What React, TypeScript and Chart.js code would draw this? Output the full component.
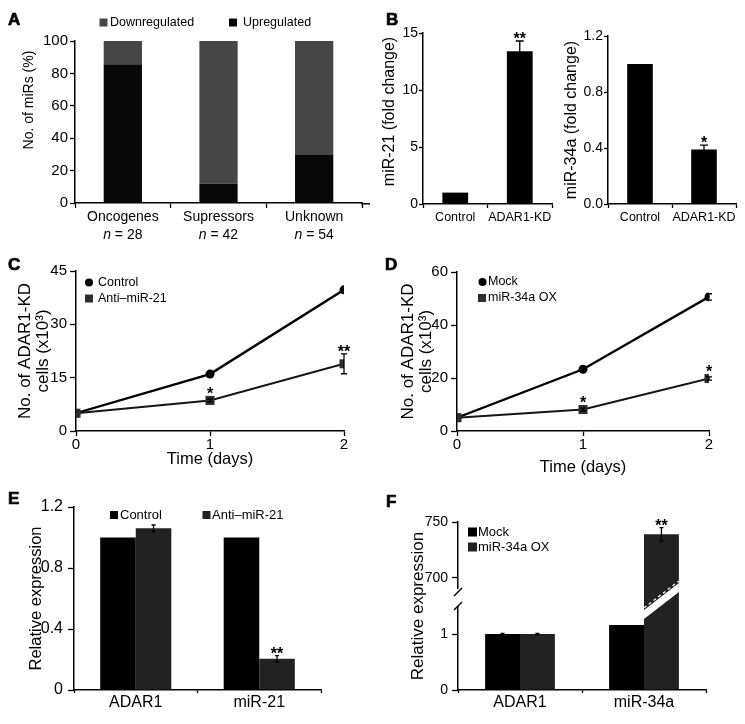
import React, { useEffect, useRef } from 'react';
import { Chart, LinearScale, registerables } from 'chart.js';

const FONT = '"Liberation Sans", Arial, Helvetica, sans-serif';

// ---------------- Data ----------------
// Panel A
const aCategories = ['Oncogenes', 'Supressors', 'Unknown'];
const aCounts = [28, 42, 54];
const aUp = [85.7, 11.9, 29.6];
const aDown = [14.3, 88.1, 70.4];
// Panel B
const bCategories = ['Control', 'ADAR1-KD'];
const b21 = [1.0, 13.4];
const b21Err = [0, 0.9];
const b21Stars = ['', '**'];
const b34 = [1.0, 0.39];
const b34Err = [0, 0.03];
const b34Stars = ['', '*'];
// Panel C
const days = [0, 1, 2];
const cControl = [5, 16, 39.7];
const cAnti = [5, 8.6, 18.9];
const cAntiErr = [0, 0.4, 2.8];
const cStars = ['', '*', '**'];
// Panel D
const dMock = [5, 23.3, 50.6];
const dMockErr = [0, 0.5, 1.2];
const dOX = [5, 8.1, 19.8];
const dOXErr = [0, 0.5, 0.6];
const dStars = ['', '*', '*'];
// Panel E
const eCategories = ['ADAR1', 'miR-21'];
const eControl = [1.0, 1.0];
const eAnti = [1.06, 0.205];
const eAntiErr = [0.022, 0.02];
const eStars = ['', '**'];
// Panel F
const fCategories = ['ADAR1', 'miR-34a'];
const fMock = [1.0, 1.16];
const fOX = [1.0, 739];
const fMockErr = [0.01, 0];
const fOXErr = [0.01, 6];
const fStars = ['', '**'];
const fTickValues = [0, 1, 700, 750];
const fBreak = { lowMax: 1.5, highMin: 684, lowFrac: 0.5, highFrac: 0.56 };

// ---------------- Broken linear scale ----------------
class BrokenLinearScale extends LinearScale {
  static id = 'brokenLinear';
  static defaults = {};
  buildTicks() {
    const vals = (this.options as any).tickValues || [];
    const out: any[] = [];
    for (let i = 0; i < vals.length; i++) out.push({ value: vals[i] });
    return out;
  }
  _dec(value: number) {
    const b = (this.options as any).breakAt;
    const min = this.min;
    const max = this.max;
    if (value <= b.lowMax) return ((value - min) / (b.lowMax - min)) * b.lowFrac;
    if (value >= b.highMin) return b.highFrac + ((value - b.highMin) / (max - b.highMin)) * (1 - b.highFrac);
    return b.lowFrac + ((value - b.lowMax) / (b.highMin - b.lowMax)) * (b.highFrac - b.lowFrac);
  }
  getPixelForValue(value: number) {
    if (value === null || value === undefined || isNaN(value)) return NaN;
    return this.getPixelForDecimal(this._dec(value));
  }
  getValueForPixel(pixel: number) {
    const b = (this.options as any).breakAt;
    const d = this.getDecimalForPixel(pixel);
    const min = this.min;
    const max = this.max;
    if (d <= b.lowFrac) return min + (d / b.lowFrac) * (b.lowMax - min);
    if (d >= b.highFrac) return b.highMin + ((d - b.highFrac) / (1 - b.highFrac)) * (max - b.highMin);
    return b.lowMax + ((d - b.lowFrac) / (b.highFrac - b.lowFrac)) * (b.highMin - b.lowMax);
  }
}

Chart.register(...registerables, BrokenLinearScale);

// ---------------- Helpers ----------------
const tickFont = (size: number) => ({ family: FONT, size });

function yAxis(o: any) {
  return {
    type: o.type || 'linear',
    min: o.min,
    max: o.max,
    ticks: {
      stepSize: o.step,
      font: tickFont(o.tickSize),
      color: '#000',
      padding: o.pad,
      autoSkip: false,
      ...(o.cb ? { callback: o.cb } : {}),
    },
    grid: { drawOnChartArea: false, drawTicks: true, tickLength: o.tl, tickColor: '#000', tickWidth: 1.3 },
    border: { display: true, color: '#000', width: 1.5 },
    title: {
      display: !!o.title,
      text: o.title || '',
      color: '#000',
      font: { family: FONT, size: o.titleSize, lineHeight: o.titleLH },
      padding: { top: o.titlePad, bottom: 0 },
    },
    afterFit: (s: any) => {
      s.width = o.width;
    },
    ...(o.extra || {}),
  };
}

function xCat(o: any) {
  return {
    type: 'category',
    offset: true,
    stacked: !!o.stacked,
    ticks: { font: tickFont(o.size), color: '#000', padding: o.pad, autoSkip: false, maxRotation: 0 },
    grid: { offset: true, drawOnChartArea: false, drawTicks: true, tickLength: o.tl, tickColor: '#000', tickWidth: 1.3 },
    border: { display: true, color: '#000', width: 1.5 },
    afterFit: (s: any) => {
      s.height = o.height;
    },
  };
}

function xDays(o: any) {
  return {
    type: 'linear',
    min: 0,
    max: 2,
    ticks: { stepSize: 1, font: tickFont(15), color: '#000', padding: o.pad },
    grid: { drawOnChartArea: false, drawTicks: true, tickLength: 5, tickColor: '#000', tickWidth: 1.3 },
    border: { display: true, color: '#000', width: 1.5 },
    title: {
      display: true,
      text: 'Time (days)',
      color: '#000',
      font: { family: FONT, size: 16.5, lineHeight: '19px' },
      padding: { top: 0, bottom: o.titlePad },
    },
    afterFit: (s: any) => {
      s.height = o.height;
    },
  };
}

function baseOpts(padding: any, scales: any) {
  return {
    responsive: true,
    maintainAspectRatio: false,
    animation: false,
    events: [],
    layout: { padding, autoPadding: false },
    plugins: { legend: { display: false }, tooltip: { enabled: false } },
    scales,
  };
}

// Rotated y-axis title placed at a given x, shifted up from the plot centre
function yTitlePlugin(text: string, size: number, cx: number, shiftUp: number) {
  return {
    id: 'yTitle',
    afterDraw(chart: any) {
      const ca = chart.chartArea;
      const ctx = chart.ctx;
      ctx.save();
      ctx.translate(cx, (ca.top + ca.bottom) / 2 - shiftUp);
      ctx.rotate(-Math.PI / 2);
      ctx.font = `${size}px ${FONT}`;
      ctx.fillStyle = '#000';
      ctx.textAlign = 'center';
      ctx.textBaseline = 'middle';
      ctx.fillText(text, 0, 0);
      ctx.restore();
    },
  };
}

function axisExtendPlugin(extra: number) {
  return {
    id: 'axisExtend',
    afterDraw(chart: any) {
      const ca = chart.chartArea;
      const ctx = chart.ctx;
      ctx.save();
      ctx.strokeStyle = '#000';
      ctx.lineWidth = 1.5;
      ctx.beginPath();
      ctx.moveTo(ca.right - 1, ca.bottom + 0.75);
      ctx.lineTo(ca.right + extra, ca.bottom + 0.75);
      ctx.stroke();
      ctx.restore();
    },
  };
}

function marksPlugin(errs: number[][], stars: string[][], cap: number) {
  return {
    id: 'marks',
    afterDatasetsDraw(chart: any) {
      const ctx = chart.ctx;
      const yS = chart.scales.y;
      ctx.save();
      chart.data.datasets.forEach((ds: any, i: number) => {
        const meta = chart.getDatasetMeta(i);
        meta.data.forEach((el: any, j: number) => {
          const parsed = meta._parsed[j];
          const v = parsed ? parsed.y : 0;
          const e = errs[i] && errs[i][j] ? errs[i][j] : 0;
          let top = meta.type === 'line' ? el.y - (ds.markHalf || 4.5) : el.y;
          if (e > 0) {
            const yT = yS.getPixelForValue(v + e);
            const yB = yS.getPixelForValue(v - e);
            ctx.strokeStyle = '#000';
            ctx.lineWidth = 1.3;
            ctx.beginPath();
            ctx.moveTo(el.x, yT);
            ctx.lineTo(el.x, yB);
            ctx.moveTo(el.x - cap / 2, yT);
            ctx.lineTo(el.x + cap / 2, yT);
            ctx.moveTo(el.x - cap / 2, yB);
            ctx.lineTo(el.x + cap / 2, yB);
            ctx.stroke();
            top = Math.min(top, yT);
          }
          const s = stars[i] && stars[i][j];
          if (s) {
            ctx.fillStyle = '#000';
            ctx.font = `bold 16px ${FONT}`;
            ctx.textAlign = 'center';
            ctx.textBaseline = 'alphabetic';
            ctx.fillText(s, el.x, top + 3);
          }
        });
      });
      ctx.restore();
    },
  };
}

type LItem = { ds: number; mx: number; my: number; tx: number; shape: string };
function legendPlugin(items: LItem[], fontSize: number, box: number) {
  return {
    id: 'customLegend',
    afterDraw(chart: any) {
      const ctx = chart.ctx;
      ctx.save();
      items.forEach((it) => {
        const ds: any = chart.data.datasets[it.ds];
        ctx.fillStyle = ds.legendColor || ds.backgroundColor;
        if (it.shape === 'circle') {
          ctx.beginPath();
          ctx.arc(it.mx, it.my, box / 2, 0, Math.PI * 2);
          ctx.fill();
        } else {
          ctx.fillRect(it.mx - box / 2, it.my - box / 2, box, box);
        }
        ctx.fillStyle = '#000';
        ctx.font = `${fontSize}px ${FONT}`;
        ctx.textAlign = 'left';
        ctx.textBaseline = 'middle';
        ctx.fillText(ds.label, it.tx, it.my);
      });
      ctx.restore();
    },
  };
}

const nPlugin = {
  id: 'nLabels',
  afterDraw(chart: any) {
    const xs = chart.scales.x;
    const ctx = chart.ctx;
    ctx.save();
    ctx.fillStyle = '#000';
    ctx.textBaseline = 'middle';
    ctx.textAlign = 'left';
    aCounts.forEach((n, i) => {
      const x = xs.getPixelForValue(i);
      const y = xs.top + 32;
      const rest = ` = ${n}`;
      ctx.font = `italic 14px ${FONT}`;
      const w1 = ctx.measureText('n').width;
      ctx.font = `14px ${FONT}`;
      const w2 = ctx.measureText(rest).width;
      const start = x - (w1 + w2) / 2;
      ctx.font = `italic 14px ${FONT}`;
      ctx.fillText('n', start, y);
      ctx.font = `14px ${FONT}`;
      ctx.fillText(rest, start + w1, y);
    });
    ctx.restore();
  },
};

const breakPlugin = {
  id: 'axisBreak',
  afterDraw(chart: any) {
    const ctx = chart.ctx;
    const yS = chart.scales.y;
    const gTop = yS.getPixelForValue(fBreak.highMin);
    const gBot = yS.getPixelForValue(fBreak.lowMax);
    const mid = (gTop + gBot) / 2;
    const ax = chart.chartArea.left;
    ctx.save();
    // axis break
    ctx.fillStyle = '#fff';
    ctx.fillRect(ax - 3, gTop - 7, 6, gBot - gTop + 7);
    ctx.strokeStyle = '#000';
    ctx.lineWidth = 1.5;
    [gTop - 4, gBot].forEach((y) => {
      ctx.beginPath();
      ctx.moveTo(ax - 4, y + 4);
      ctx.lineTo(ax + 4, y - 4);
      ctx.stroke();
    });
    // bar break on the tall bar
    const meta = chart.getDatasetMeta(1);
    const el: any = meta.data[1];
    const w = el.width;
    const l = el.x - w / 2;
    const r = el.x + w / 2;
    const slope = 0.77;
    const half = 4.5;
    const yl = mid + (slope * w) / 2;
    const yr = mid - (slope * w) / 2;
    ctx.fillStyle = '#fff';
    ctx.beginPath();
    ctx.moveTo(l, yl - half);
    ctx.lineTo(r, yr - half);
    ctx.lineTo(r, yr + half);
    ctx.lineTo(l, yl + half);
    ctx.closePath();
    ctx.fill();
    ctx.strokeStyle = '#fff';
    ctx.lineWidth = 1.2;
    ctx.setLineDash([3, 3]);
    ctx.beginPath();
    ctx.moveTo(l, yl - half - 2);
    ctx.lineTo(r, yr - half - 2);
    ctx.stroke();
    ctx.restore();
  },
};

// ---------------- Chart configs ----------------
const makeA = () => ({
  type: 'bar',
  data: {
    labels: aCategories,
    datasets: [
      { label: 'Upregulated', data: aUp, backgroundColor: '#080808', barPercentage: 0.4, categoryPercentage: 1 },
      { label: 'Downregulated', data: aDown, backgroundColor: '#464646', barPercentage: 0.4, categoryPercentage: 1 },
    ],
  },
  options: baseOpts(
    { left: 0, top: 41, right: 23, bottom: 0 },
    {
      x: xCat({ size: 14, tl: 5, pad: 1, height: 47, stacked: true }),
      y: yAxis({
        min: 0, max: 100, step: 20, tickSize: 15, tl: 5, pad: 2, width: 75,
        title: null,
        extra: { stacked: true },
      }),
    }
  ),
  plugins: [
    nPlugin,
    yTitlePlugin('No. of miRs (%)', 14, 29, 22),
    axisExtendPlugin(8),
    legendPlugin(
      [
        { ds: 1, mx: 103.5, my: 22.5, tx: 110, shape: 'box' },
        { ds: 0, mx: 233, my: 22.5, tx: 243, shape: 'box' },
      ],
      12.5,
      8
    ),
  ],
});

const makeB21 = () => ({
  type: 'bar',
  data: {
    labels: bCategories,
    datasets: [{ label: 'miR-21', data: b21, backgroundColor: '#000', barPercentage: 0.4, categoryPercentage: 1 }],
  },
  options: baseOpts(
    { left: 0, top: 33, right: 5, bottom: 0 },
    {
      x: xCat({ size: 12.5, tl: 4, pad: 2, height: 46 }),
      y: yAxis({
        min: 0, max: 15, step: 5, tickSize: 14, tl: 4, pad: 1, width: 53,
        title: null,
      }),
    }
  ),
  plugins: [marksPlugin([b21Err], [b21Stars], 8), yTitlePlugin('miR-21 (fold change)', 16, 20, 7)],
});

const makeB34 = () => ({
  type: 'bar',
  data: {
    labels: bCategories,
    datasets: [{ label: 'miR-34a', data: b34, backgroundColor: '#000', barPercentage: 0.4, categoryPercentage: 1 }],
  },
  options: baseOpts(
    { left: 0, top: 36, right: 9, bottom: 0 },
    {
      x: xCat({ size: 12.5, tl: 4, pad: 2, height: 46 }),
      y: yAxis({
        min: 0, max: 1.2, step: 0.4, tickSize: 14, tl: 4, pad: 1, width: 51,
        cb: (v: number) => v.toFixed(1),
        title: 'miR-34a (fold change)', titleSize: 16, titleLH: '19px', titlePad: 5.5,
      }),
    }
  ),
  plugins: [marksPlugin([b34Err], [b34Stars], 8)],
});

const pts = (vals: number[]) => days.map((d, i) => ({ x: d, y: vals[i] }));

const lineDs = (label: string, vals: number[], circle: boolean) =>
  circle
    ? {
        label, data: pts(vals), borderColor: '#000', borderWidth: 2.4, backgroundColor: '#000',
        pointStyle: 'circle', pointRadius: 4.5, pointBackgroundColor: '#000', pointBorderWidth: 0,
        tension: 0, markHalf: 4.5, order: 0,
      }
    : {
        label, data: pts(vals), borderColor: '#151515', borderWidth: 2, backgroundColor: '#2e2e2e',
        pointStyle: 'rect', pointRadius: 6.4, pointBackgroundColor: '#2e2e2e', pointBorderWidth: 0,
        tension: 0, markHalf: 4.5, order: -1,
      };

const makeC = () => ({
  type: 'line',
  data: { datasets: [lineDs('Control', cControl, true), lineDs('Anti\u2013miR-21', cAnti, false)] },
  options: baseOpts(
    { left: 0, top: 21, right: 41, bottom: 0 },
    {
      x: xDays({ pad: 0, titlePad: 11.2, height: 49 }),
      y: yAxis({
        min: 0, max: 45, step: 15, tickSize: 15, tl: 6, pad: 3, width: 76,
        title: ['No. of ADAR1-KD', 'cells (x10\u00B3)'], titleSize: 17, titleLH: '18.5px', titlePad: 15.75,
      }),
    }
  ),
  plugins: [
    marksPlugin([[0, 0, 0], cAntiErr], [[], cStars], 6),
    legendPlugin(
      [
        { ds: 0, mx: 89, my: 32.5, tx: 98, shape: 'circle' },
        { ds: 1, mx: 89, my: 48.5, tx: 98, shape: 'box' },
      ],
      12.5,
      8
    ),
  ],
});

const makeD = () => ({
  type: 'line',
  data: { datasets: [lineDs('Mock', dMock, true), lineDs('miR-34a OX', dOX, false)] },
  options: baseOpts(
    { left: 0, top: 22, right: 36, bottom: 0 },
    {
      x: xDays({ pad: 0, titlePad: 3.5, height: 49 }),
      y: yAxis({
        min: 0, max: 60, step: 20, tickSize: 15, tl: 6, pad: 3, width: 72,
        title: ['No. of ADAR1-KD', 'cells (x10\u00B3)'], titleSize: 17, titleLH: '18.5px', titlePad: 13.75,
      }),
    }
  ),
  plugins: [
    marksPlugin([dMockErr, dOXErr], [[], dStars], 6),
    legendPlugin(
      [
        { ds: 0, mx: 97.5, my: 32, tx: 103, shape: 'circle' },
        { ds: 1, mx: 97, my: 48, tx: 103, shape: 'box' },
      ],
      12.5,
      8
    ),
  ],
});

const makeE = () => ({
  type: 'bar',
  data: {
    labels: eCategories,
    datasets: [
      { label: 'Control', data: eControl, backgroundColor: '#000', barPercentage: 1, categoryPercentage: 0.576 },
      { label: 'Anti\u2013miR-21', data: eAnti, backgroundColor: '#222', barPercentage: 1, categoryPercentage: 0.576 },
    ],
  },
  options: baseOpts(
    { left: 0, top: 27, right: 64, bottom: 0 },
    {
      x: xCat({ size: 16, tl: 3, pad: 0, height: 34 }),
      y: yAxis({
        min: 0, max: 1.2, step: 0.4, tickSize: 16, tl: 6, pad: 5, width: 74,
        cb: (v: number) => (v === 0 ? '0' : v.toFixed(1)),
        title: 'Relative expression', titleSize: 16.5, titleLH: '19px', titlePad: 26.5,
      }),
    }
  ),
  plugins: [
    marksPlugin([[0, 0], eAntiErr], [[], eStars], 4),
    legendPlugin(
      [
        { ds: 0, mx: 114, my: 35, tx: 120, shape: 'box' },
        { ds: 1, mx: 206.5, my: 35, tx: 212, shape: 'box' },
      ],
      13,
      8
    ),
  ],
});

const makeF = () => ({
  type: 'bar',
  data: {
    labels: fCategories,
    datasets: [
      { label: 'Mock', data: fMock, backgroundColor: '#000', barPercentage: 1, categoryPercentage: 0.5625 },
      { label: 'miR-34a OX', data: fOX, backgroundColor: '#222', barPercentage: 1, categoryPercentage: 0.5625 },
    ],
  },
  options: baseOpts(
    { left: 0, top: 42, right: 39, bottom: 0 },
    {
      x: xCat({ size: 16, tl: 3, pad: 0, height: 34 }),
      y: yAxis({
        type: 'brokenLinear', min: 0, max: 750, tickSize: 14, tl: 6, pad: 4, width: 73,
        cb: (v: number) => String(v),
        title: 'Relative expression', titleSize: 17, titleLH: '20px', titlePad: 23,
        extra: { tickValues: fTickValues, breakAt: fBreak },
      }),
    }
  ),
  plugins: [
    marksPlugin([fMockErr, fOXErr], [[], fStars], 4),
    breakPlugin,
    legendPlugin(
      [
        { ds: 0, mx: 87.5, my: 52, tx: 93, shape: 'box' },
        { ds: 1, mx: 87.5, my: 67, tx: 93, shape: 'box' },
      ],
      13,
      9
    ),
  ],
});

// ---------------- Components ----------------
function ChartBox(props: { left: number; top: number; width: number; height: number; make: () => any }) {
  const ref = useRef<HTMLCanvasElement>(null);
  useEffect(() => {
    const chart = new Chart(ref.current as HTMLCanvasElement, props.make());
    return () => chart.destroy();
  }, []);
  return (
    <div style={{ position: 'absolute', left: props.left, top: props.top, width: props.width, height: props.height }}>
      <canvas ref={ref} />
    </div>
  );
}

function Letter(props: { t: string; left: number; top: number }) {
  return (
    <div
      style={{
        position: 'absolute',
        left: props.left,
        top: props.top,
        font: `bold 17px ${FONT}`,
        lineHeight: '17px',
        color: '#000',
        WebkitTextStroke: '0.7px #000',
      }}
    >
      {props.t}
    </div>
  );
}

export default function App() {
  return (
    <div
      style={{
        position: 'fixed',
        left: 0,
        top: 0,
        width: 745,
        height: 724,
        background: '#fff',
        overflow: 'hidden',
      }}
    >
      <ChartBox left={0} top={0} width={385} height={250} make={makeA} />
      <ChartBox left={370} top={0} width={187} height={250} make={makeB21} />
      <ChartBox left={557} top={0} width={188} height={250} make={makeB34} />
      <ChartBox left={0} top={250} width={385} height={230} make={makeC} />
      <ChartBox left={385} top={250} width={360} height={230} make={makeD} />
      <ChartBox left={0} top={480} width={385} height={244} make={makeE} />
      <ChartBox left={385} top={480} width={360} height={244} make={makeF} />
      <Letter t="A" left={8} top={11} />
      <Letter t="B" left={386} top={11} />
      <Letter t="C" left={8} top={256} />
      <Letter t="D" left={385} top={256} />
      <Letter t="E" left={8} top={490} />
      <Letter t="F" left={386} top={493} />
    </div>
  );
}
